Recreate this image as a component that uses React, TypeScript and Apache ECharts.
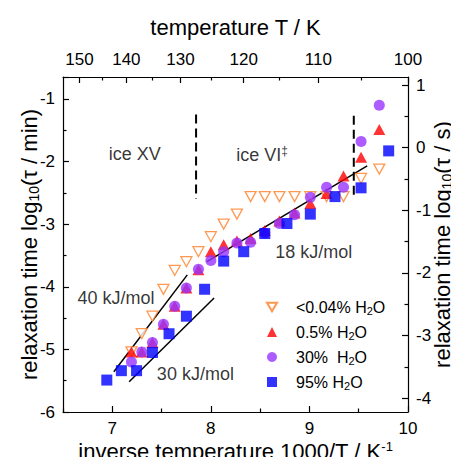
import React, { useEffect, useRef } from "react";
import * as echarts from "echarts";

const FONT = "Liberation Sans, Arial, sans-serif";
const LOG60 = Math.log10(60);

// temperatures (K) and log10(tau/min)
const TEMP_DRY = [139, 137, 135, 133, 131, 129, 127, 125, 123, 121, 119, 117, 115, 113, 111, 109, 107, 105, 103];
const LOG_DRY = [-5.04, -4.75, -4.47, -4.04, -3.74, -3.6, -3.44, -3.2, -3.0, -2.84, -2.56, -2.56, -2.56, -2.56, -2.56, -2.56, -2.56, -2.27, -2.12];

const TEMP_05 = [139, 137, 135, 133, 131, 129, 127, 125, 123, 121, 119, 117, 115, 113, 111, 109, 107, 105, 103];
const LOG_05 = [-5.04, -5.04, -4.89, -4.6, -4.31, -4.02, -3.73, -3.44, -3.33, -3.27, -3.23, -3.1, -2.95, -2.82, -2.67, -2.51, -2.23, -1.93, -1.49];

const TEMP_30 = [139, 137, 135, 133, 131, 129, 127, 125, 123, 121, 119, 117, 115, 113, 111, 109, 107, 105, 103];
const LOG_30 = [-5.2, -5.04, -4.89, -4.6, -4.31, -4.02, -3.72, -3.58, -3.44, -3.3, -3.29, -3.14, -2.99, -2.85, -2.57, -2.41, -2.41, -1.68, -1.1];

const TEMP_95 = [144, 141, 138, 135, 132, 129, 126, 123, 120, 117, 114, 111, 108, 105, 102];
const LOG_95 = [-5.49, -5.34, -5.34, -5.05, -4.75, -4.47, -4.04, -3.59, -3.44, -3.15, -2.99, -2.84, -2.56, -2.42, -1.83];

const SERIES_NAMES = ["<0.04% H2O", "0.5% H2O", "30%  H2O", "95% H2O"];
const LEGEND_RICH = ["<0.04% H{sub|2}O", "0.5% H{sub|2}O", "30%  H{sub|2}O", "95% H{sub|2}O"];

// fits in (1000/T, log10 tau/min)
const FIT_40 = [[7.016, -5.356], [7.761, -3.81]];
const FIT_30 = [[7.171, -5.516], [8.033, -4.18]];
const FIT_18 = [[7.96, -3.6], [9.586, -2.07]];
const PHASE_BOUNDS = [
  [[7.85, -1.25], [7.85, -2.6]],
  [[9.45, -1.27], [9.45, -2.56]],
];

const ANNOTATIONS = [
  { x: 7.229, y: -1.88, text: "ice XV" },
  { x: 8.52, y: -1.895, text: "ice VI{sup|‡}" },
  { x: 7.037, y: -4.18, text: "40 kJ/mol" },
  { x: 7.843, y: -5.393, text: "30 kJ/mol" },
  { x: 9.043, y: -3.44, text: "18 kJ/mol" },
];

const BOTTOM_MAJOR = [7, 8, 9, 10];
const BOTTOM_MINOR = [6.5, 7.5, 8.5, 9.5];
const TOP_LABELS_T = [150, 140, 130, 120, 110, 100];
const TOP_MINOR_T = [145, 135, 125, 115, 105];
const RIGHT_MAJOR = [-4, -3, -2, -1, 0, 1];
const RIGHT_MINOR = [-3.5, -2.5, -1.5, -0.5, 0.5];

const Y_MIN = -6;
const Y_MAX = -0.65;

const DOWN_TRI = "path://M0,0L10,0L5,8.66Z";

export default function App() {
  const ref = useRef<HTMLDivElement>(null);
  useEffect(() => {
    if (!ref.current) return;
    const chart = echarts.init(ref.current, null, { renderer: "svg" });
    const black = "#000";
    const lineStyle = { color: black, width: 1.2 };
    const tickLabel = { color: black, fontSize: 17, fontFamily: FONT };
    const nameStyle = {
      color: black,
      fontSize: 22,
      fontFamily: FONT,
      rich: {
        sub: { fontSize: 14, fontFamily: FONT, color: black, verticalAlign: "bottom", padding: [10, 0, 0, 0] },
        sup: { fontSize: 13, fontFamily: FONT, color: black, verticalAlign: "top", padding: [0, 0, 6, 0] },
      },
    };
    const hiddenAxisBase = {
      axisLine: { show: false, onZero: false },
      axisLabel: { show: false },
      splitLine: { show: false },
    };
    const pts = (ts: number[], ls: number[]) => ts.map((t, i) => [1000 / t, ls[i]]);

    const lineSeries = (data: number[][], dashed = false) => ({
      type: "line",
      data,
      symbol: "none",
      silent: true,
      lineStyle: dashed
        ? { color: black, width: 2, type: [9, 5] }
        : { color: black, width: 1.5 },
      z: 1,
    });

    const option: any = {
      animation: false,
      grid: { left: 63, right: 51, top: 77, bottom: 53, outerBoundsMode: "none", containLabel: false },
      legend: {
        orient: "vertical",
        left: 261,
        top: 294,
        itemWidth: 10,
        itemHeight: 10,
        itemGap: 8,
        data: SERIES_NAMES,
        formatter: (n: string) => LEGEND_RICH[SERIES_NAMES.indexOf(n)],
        textStyle: {
          color: black,
          fontSize: 16,
          fontFamily: FONT,
          padding: [0, 0, 0, 14],
          rich: {
            sub: { fontSize: 11, fontFamily: FONT, color: black, verticalAlign: "bottom", padding: [7, 0, 0, 0] },
          },
        },
      },
      xAxis: [
        {
          type: "value",
          position: "bottom",
          min: 6.5,
          max: 10,
          axisLine: { onZero: false, lineStyle },
          axisTick: { inside: true, length: 6, lineStyle, customValues: BOTTOM_MAJOR },
          axisLabel: { ...tickLabel, margin: 8, customValues: BOTTOM_MAJOR },
          splitLine: { show: false },
          name: "inverse temperature 1000/T / K{sup|-1}",
          nameLocation: "middle",
          nameGap: 28,
          nameMoveOverlap: false,
          nameTextStyle: nameStyle,
        },
        {
          type: "value",
          position: "bottom",
          min: 6.5,
          max: 10,
          ...hiddenAxisBase,
          axisTick: { inside: true, length: 3.5, lineStyle, customValues: BOTTOM_MINOR },
        },
        {
          type: "value",
          position: "top",
          min: 6.5,
          max: 10,
          axisLine: { onZero: false, lineStyle },
          axisTick: { inside: true, length: 6, lineStyle, customValues: TOP_LABELS_T.map((t) => 1000 / t) },
          axisLabel: {
            ...tickLabel,
            margin: 9,
            customValues: TOP_LABELS_T.map((t) => 1000 / t),
            formatter: (v: number) => String(Math.round(1000 / v)),
          },
          splitLine: { show: false },
          name: "temperature T / K",
          nameLocation: "middle",
          nameGap: 39,
          nameMoveOverlap: false,
          nameTextStyle: nameStyle,
        },
        {
          type: "value",
          position: "top",
          min: 6.5,
          max: 10,
          ...hiddenAxisBase,
          axisTick: { inside: true, length: 3.5, lineStyle, customValues: TOP_MINOR_T.map((t) => 1000 / t) },
        },
      ],
      yAxis: [
        {
          type: "value",
          position: "left",
          min: Y_MIN,
          max: Y_MAX,
          interval: 1,
          axisLine: { onZero: false, lineStyle },
          axisTick: { inside: true, length: 6, lineStyle },
          minorTick: { show: true, splitNumber: 2, length: 3.5, lineStyle },
          axisLabel: { ...tickLabel, margin: 8, showMaxLabel: false },
          splitLine: { show: false },
          minorSplitLine: { show: false },
          name: "relaxation time log{sub|10}(τ / min)",
          nameLocation: "middle",
          nameGap: 22,
          nameMoveOverlap: false,
          nameRotate: 90,
          nameTextStyle: nameStyle,
        },
        {
          type: "value",
          position: "right",
          min: Y_MIN + LOG60,
          max: Y_MAX + LOG60,
          axisLine: { onZero: false, lineStyle },
          axisTick: { inside: true, length: 6, lineStyle, customValues: RIGHT_MAJOR },
          axisLabel: { ...tickLabel, margin: 8, customValues: RIGHT_MAJOR },
          splitLine: { show: false },
          name: "relaxation time log{sub|10}(τ / s)",
          nameLocation: "middle",
          nameGap: 22,
          nameMoveOverlap: false,
          nameRotate: 90,
          nameTextStyle: nameStyle,
        },
        {
          type: "value",
          position: "right",
          min: Y_MIN + LOG60,
          max: Y_MAX + LOG60,
          ...hiddenAxisBase,
          axisTick: { inside: true, length: 3.5, lineStyle, customValues: RIGHT_MINOR },
        },
      ],
      series: [
        lineSeries(FIT_40),
        lineSeries(FIT_30),
        lineSeries(FIT_18),
        ...PHASE_BOUNDS.map((d) => lineSeries(d, true)),
        {
          type: "scatter",
          silent: true,
          symbolSize: 0,
          data: ANNOTATIONS.map((a) => ({ value: [a.x, a.y], label: { formatter: a.text } })),
          label: {
            show: true,
            position: "inside",
            color: black,
            fontSize: 18,
            fontFamily: FONT,
            rich: { sup: { fontSize: 12, fontFamily: FONT, color: black, verticalAlign: "top", padding: [0, 0, 8, 0] } },
          },
          z: 2,
        },
        {
          name: SERIES_NAMES[0],
          type: "scatter",
          symbol: DOWN_TRI,
          symbolSize: [11, 10],
          data: pts(TEMP_DRY, LOG_DRY),
          itemStyle: { color: "#ffffff", borderColor: "#ff7f27", borderWidth: 1.3 },
          z: 3,
        },
        {
          name: SERIES_NAMES[1],
          type: "scatter",
          symbol: "triangle",
          symbolSize: [12, 11],
          data: pts(TEMP_05, LOG_05),
          itemStyle: { color: "#ff0000" },
          z: 4,
        },
        {
          name: SERIES_NAMES[2],
          type: "scatter",
          symbol: "circle",
          symbolSize: 11,
          data: pts(TEMP_30, LOG_30),
          itemStyle: { color: "#9933ff" },
          z: 5,
        },
        {
          name: SERIES_NAMES[3],
          type: "scatter",
          symbol: "rect",
          symbolSize: 11,
          data: pts(TEMP_95, LOG_95),
          itemStyle: { color: "#0000ff" },
          z: 6,
        },
      ],
    };
    chart.setOption(option);
    return () => chart.dispose();
  }, []);
  return <div ref={ref} style={{ width: 459, height: 465, margin: -8 }} />;
}
